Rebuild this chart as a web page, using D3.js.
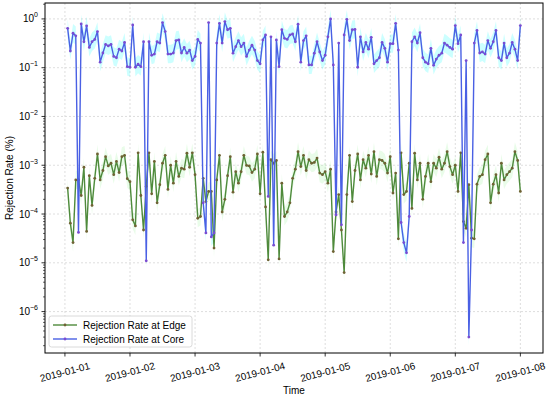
<!DOCTYPE html>
<html>
<head>
<meta charset="utf-8">
<script src="https://cdn.jsdelivr.net/npm/d3@7"></script>
<style>
  body { margin: 0; background: #fff; }
  text { font-family: "Liberation Sans", Arial, sans-serif; fill: #000; }
</style>
</head>
<body>
<svg id="chart"></svg>
<script>
// hourly readings, 2019-01-01 01:00 -> 2019-01-08 00:00
const edgeRate = [
  3.4e-4, 6.5e-5, 2.6e-5, 5.0e-4, 5.0e-4, 2.4e-4, 9.1e-4, 4.4e-5, 6.1e-4, 1.5e-4,
  5.4e-4, 1.7e-3, 5.0e-4, 7.8e-4, 1.5e-3, 9.7e-4, 1.1e-3, 6.4e-4, 1.2e-3, 7.1e-4,
  1.5e-3, 1.6e-3, 5.3e-4, 4.6e-4, 7.6e-5, 5.7e-5, 1.8e-3, 2.4e-4, 4.7e-5, 3.7e-4,
  1.8e-3, 2.6e-4, 1.2e-3, 1.7e-4, 4.0e-4, 1.1e-3, 1.6e-3, 3.2e-4, 1.0e-3, 4.3e-4,
  1.2e-3, 5.9e-4, 8.7e-4, 8.3e-4, 1.77e-3, 9.1e-4, 1.8e-3, 6.4e-4, 8.2e-5, 8.9e-5,
  5.4e-4, 1.8e-4, 2.9e-4, 2.9e-4, 2.0e-5, 5.0e-4, 1.6e-3, 1.1e-4, 2.0e-4, 6.1e-4,
  1.5e-3, 2.8e-4, 7.4e-4, 4.3e-4, 7.4e-4, 1.6e-3, 9.9e-4, 9.7e-4, 7.1e-4, 8.3e-4,
  1.7e-3, 2.6e-4, 1.85e-3, 1.4e-4, 1.15e-5, 1.3e-3, 1.1e-3, 1.25e-3, 1.2e-5, 4.3e-4,
  8.9e-5, 1.1e-4, 1.7e-4, 5.4e-4, 8.3e-4, 1.9e-3, 9.4e-4, 1.6e-3, 7.8e-4, 1.3e-3,
  1.1e-3, 1.14e-3, 1.4e-3, 6.9e-4, 6.4e-4, 7.4e-4, 4.3e-4, 8.3e-4, 1.7e-5, 1.1e-4,
  2.5e-4, 4.7e-5, 6.3e-6, 2.5e-4, 1.6e-3, 1.8e-4, 7.8e-4, 1.7e-3, 5.0e-4, 1.3e-3,
  8.7e-4, 1.6e-3, 6.6e-4, 1.9e-3, 5.9e-4, 1.3e-3, 1.25e-3, 1.1e-3, 6.9e-4, 1.5e-3,
  2.7e-4, 6.9e-4, 3.1e-5, 1.8e-3, 2.5e-4, 2.9e-4, 1.1e-3, 1.3e-4, 1.77e-3, 5.0e-4,
  1.1e-3, 2.0e-4, 5.9e-4, 1.1e-3, 4.6e-4, 1.1e-3, 8.7e-4, 1.46e-3, 8.3e-4, 1.1e-3,
  1.9e-3, 9.4e-4, 6.4e-4, 1.0e-3, 2.9e-4, 1.8e-3, 7.0e-5, 5.1e-5, 4.0e-4, 3.2e-5,
  3.1e-5, 4.1e-4, 5.9e-4, 6.4e-4, 1.3e-3, 1.7e-3, 1.7e-4, 4.1e-4, 6.4e-4, 2.7e-4,
  1.1e-3, 5.0e-4, 6.4e-4, 7.4e-4, 8.7e-4, 1.9e-3, 1.25e-3, 2.9e-4
];
const coreRate = [
  0.64, 0.22, 0.51, 0.45, 4.2e-5, 0.79, 0.34, 0.72, 0.26, 0.34,
  0.38, 0.55, 0.13, 0.20, 0.30, 0.28, 0.30, 0.17, 0.16, 0.24,
  0.22, 0.33, 0.105, 0.102, 0.75, 0.102, 0.118, 0.105, 0.34, 1.1e-5,
  0.34, 0.18, 0.19, 0.34, 0.32, 0.84, 0.55, 0.19, 0.19, 0.20,
  0.36, 0.37, 0.20, 0.26, 0.198, 0.23, 0.14, 0.17, 0.38, 0.32,
  1.7e-4, 4.1e-5, 0.84, 3.4e-5, 4.1e-5, 0.32, 0.81, 0.32, 0.88, 0.60,
  0.64, 0.198, 0.27, 0.36, 0.27, 0.32, 0.17, 0.23, 0.29, 0.23,
  0.14, 0.12, 0.37, 0.47, 2.3e-4, 0.43, 2.3e-5, 0.37, 0.105, 0.60,
  0.40, 0.38, 0.47, 0.49, 0.34, 0.78, 0.13, 0.36, 0.45, 0.114,
  0.114, 0.198, 0.34, 0.21, 0.14, 0.18, 0.43, 1.0, 0.114, 9.6e-5,
  0.32, 6.0e-5, 0.47, 0.98, 0.36, 0.60, 0.61, 0.102, 0.43, 0.21,
  0.33, 0.24, 0.42, 0.12, 0.14, 0.16, 0.33, 0.25, 0.13, 0.31,
  0.31, 0.81, 0.23, 6.7e-5, 2.6e-5, 1.6e-5, 8.9e-5, 0.34, 0.43, 0.32,
  0.52, 0.16, 0.13, 0.12, 0.25, 0.112, 0.15, 0.18, 0.198, 0.32,
  0.29, 0.26, 0.24, 0.73, 0.31, 0.47, 2.6e-5, 0.14, 3.0e-7, 4.7e-5,
  0.32, 0.58, 0.20, 0.21, 0.19, 0.36, 0.25, 0.34, 0.58, 0.16,
  0.14, 0.32, 0.16, 0.198, 0.33, 0.24, 0.14, 0.73
];
const startTime = new Date(2019, 0, 1, 1);
const dayTicks = ["2019-01-01", "2019-01-02", "2019-01-03", "2019-01-04",
                  "2019-01-05", "2019-01-06", "2019-01-07", "2019-01-08"];
const yTickExps = [-6, -5, -4, -3, -2, -1, 0];
const seriesNames = ["Rejection Rate at Edge", "Rejection Rate at Core"];

const width = 550, height = 399;
const margin = { top: 3, right: 7, bottom: 46, left: 45 };
const chartWidth = width - margin.left - margin.right;
const chartHeight = height - margin.top - margin.bottom;

const edgeColor = "#4f8a3c", edgeMarker = "#6f6234", edgeBand = "#90ee90";
const coreColor = "#4a60e4", coreMarker = "#7a4cd2", coreBand = "#00ffff";

const times = edgeRate.map((d, i) => d3.timeHour.offset(startTime, i));
const edge = edgeRate.map((v, i) => ({ t: times[i], v: v }));
const core = coreRate.map((v, i) => ({ t: times[i], v: v }));

const svg = d3.select("#chart").attr("width", width).attr("height", height);
const g = svg.append("g").attr("transform", `translate(${margin.left},${margin.top})`);

// matplotlib-ish 5% margins
const t0 = times[0], t1 = times[times.length - 1];
const pad = (t1 - t0) * 0.05;
const xScale = d3.scaleTime()
  .domain([new Date(+t0 - pad), new Date(+t1 + pad)])
  .range([0, chartWidth]);

const allV = edgeRate.concat(coreRate);
const lmin = Math.log10(d3.min(allV)), lmax = Math.log10(d3.max(allV));
const lpad = (lmax - lmin) * 0.05;
const yScale = d3.scaleLog()
  .domain([Math.pow(10, lmin - lpad), Math.pow(10, lmax + lpad)])
  .range([chartHeight, 0]);

const dayDates = dayTicks.map(s => d3.timeParse("%Y-%m-%d")(s));

// grid
g.selectAll(".xgrid").data(dayDates).enter().append("line")
  .attr("x1", d => xScale(d)).attr("x2", d => xScale(d))
  .attr("y1", 0).attr("y2", chartHeight)
  .attr("stroke", "#d6d6d6").attr("stroke-width", 0.8).attr("stroke-dasharray", "2,2");
g.selectAll(".ygrid").data(yTickExps).enter().append("line")
  .attr("x1", 0).attr("x2", chartWidth)
  .attr("y1", d => yScale(Math.pow(10, d))).attr("y2", d => yScale(Math.pow(10, d)))
  .attr("stroke", "#d6d6d6").attr("stroke-width", 0.8).attr("stroke-dasharray", "2,2");

// shaded bands
function band(data, color, op) {
  const area = d3.area()
    .x(d => xScale(d.t))
    .y0(d => yScale(d.v * 0.65))
    .y1(d => yScale(d.v * 1.55));
  g.append("path").datum(data).attr("d", area)
    .attr("fill", color).attr("fill-opacity", op).attr("stroke", "none");
}
band(edge, edgeBand, 0.2);
band(core, coreBand, 0.2);

const line = d3.line().x(d => xScale(d.t)).y(d => yScale(d.v));

function series(data, color, mcolor) {
  g.append("path").datum(data).attr("d", line)
    .attr("fill", "none").attr("stroke", color).attr("stroke-width", 1.4)
    .attr("stroke-linejoin", "round");
  g.selectAll(null).data(data).enter().append("circle")
    .attr("cx", d => xScale(d.t)).attr("cy", d => yScale(d.v))
    .attr("r", 1.4).attr("fill", mcolor);
}
series(edge, edgeColor, edgeMarker);
series(core, coreColor, coreMarker);

// frame
g.append("rect").attr("width", chartWidth).attr("height", chartHeight)
  .attr("fill", "none").attr("stroke", "#000").attr("stroke-width", 1);

// x axis
const xAxis = g.append("g").attr("transform", `translate(0,${chartHeight})`);
xAxis.selectAll("line").data(dayDates).enter().append("line")
  .attr("x1", d => xScale(d)).attr("x2", d => xScale(d))
  .attr("y1", 0).attr("y2", 3.5).attr("stroke", "#000").attr("stroke-width", 0.8);
xAxis.selectAll("text").data(dayTicks).enter().append("text")
  .attr("transform", (d, i) => `translate(${xScale(dayDates[i])},19) rotate(-15)`)
  .attr("text-anchor", "middle").attr("dy", "0.35em")
  .style("font-size", "10px").text(d => d);

// y axis
const yAxis = g.append("g");
const minor = [];
yTickExps.concat([-7]).forEach(e => {
  for (let k = 2; k <= 9; k++) {
    const v = k * Math.pow(10, e);
    const [lo, hi] = yScale.domain();
    if (v >= lo && v <= hi) minor.push(v);
  }
});
yAxis.selectAll(".minor").data(minor).enter().append("line")
  .attr("x1", -2).attr("x2", 0)
  .attr("y1", d => yScale(d)).attr("y2", d => yScale(d))
  .attr("stroke", "#000").attr("stroke-width", 0.6);
yAxis.selectAll(".major").data(yTickExps).enter().append("line")
  .attr("x1", -3.5).attr("x2", 0)
  .attr("y1", d => yScale(Math.pow(10, d))).attr("y2", d => yScale(Math.pow(10, d)))
  .attr("stroke", "#000").attr("stroke-width", 0.8);
const ylab = yAxis.selectAll(".ylab").data(yTickExps).enter().append("text")
  .attr("x", -7).attr("y", d => yScale(Math.pow(10, d)) + 3.5)
  .attr("text-anchor", "end").style("font-size", "10px");
ylab.append("tspan").text("10");
ylab.append("tspan").attr("dy", -5).style("font-size", "7px")
  .text(d => d < 0 ? "\u2212" + (-d) : String(d));

// axis titles
svg.append("text")
  .attr("x", margin.left + chartWidth / 2).attr("y", 394)
  .attr("text-anchor", "middle").style("font-size", "10px").text("Time");
svg.append("text")
  .attr("transform", `translate(13,${margin.top + chartHeight / 2}) rotate(-90)`)
  .attr("text-anchor", "middle").style("font-size", "10px").text("Rejection Rate (%)");

// legend
const lg = svg.append("g").attr("transform", "translate(49,316)");
lg.append("rect").attr("width", 143).attr("height", 31).attr("rx", 2.5)
  .attr("fill", "#fff").attr("fill-opacity", 0.8).attr("stroke", "#d0d0d0").attr("stroke-width", 0.8);
const legendItems = [
  { name: seriesNames[0], c: edgeColor, m: edgeMarker },
  { name: seriesNames[1], c: coreColor, m: coreMarker }
];
legendItems.forEach((it, i) => {
  const yy = 9 + i * 14;
  lg.append("line").attr("x1", 4).attr("x2", 28).attr("y1", yy).attr("y2", yy)
    .attr("stroke", it.c).attr("stroke-width", 1.4);
  lg.append("circle").attr("cx", 16).attr("cy", yy).attr("r", 1.4).attr("fill", it.m);
  lg.append("text").attr("x", 34).attr("y", yy).attr("dy", "0.35em")
    .style("font-size", "10px").text(it.name);
});
</script>
</body>
</html>
